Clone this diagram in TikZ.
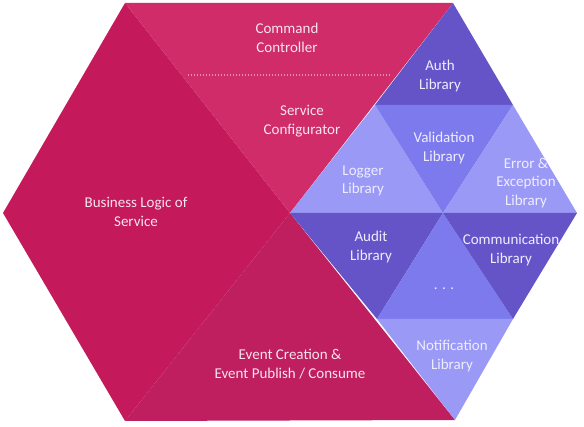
\documentclass[tikz,border=0pt]{standalone}
\usepackage{fontspec}
\setmainfont{Carlito}
\definecolor{pinkA}{HTML}{C41A5C}
\definecolor{pinkB}{HTML}{CF2C69}
\definecolor{pinkC}{HTML}{BF1F5E}
\definecolor{pdark}{HTML}{6553C8}
\definecolor{plight}{HTML}{9B99F6}
\definecolor{pmid}{HTML}{7D7AEE}
\definecolor{ptxt}{HTML}{F7E4EE}
\definecolor{vtxt}{HTML}{EEEDFF}
\definecolor{dotc}{HTML}{EC8FB4}
\tikzset{
  lbl/.style={align=center,font=\fontsize{15}{18.5}\selectfont,inner sep=0pt},
  plbl/.style={lbl,text=ptxt},
  vlbl/.style={lbl,text=vtxt},
}
\begin{document}
\begin{tikzpicture}[x=1pt,y=-1pt]
\useasboundingbox (0,0) rectangle (584,427);
% key points
\coordinate (TL) at (125,3);
\coordinate (TR) at (453,3);
\coordinate (R) at (577,213);
\coordinate (BR) at (455,420);
\coordinate (BL) at (125,421);
\coordinate (L) at (3,213);
\coordinate (C) at (290,213);
\coordinate (A1) at (375,105);
\coordinate (A2) at (513,105);
\coordinate (M) at (443,213);
\coordinate (B1) at (377,319);
\coordinate (B2) at (513,319);
% pink regions
\fill[pinkA] (L) -- (TL) -- (C) -- (BL) -- cycle;
\fill[pinkB] (TL) -- (TR) -- (C) -- cycle;
\fill[pinkC] (BL) -- (C) -- (BR) -- cycle;
% purple triangles
\fill[pdark] (TR) -- (A2) -- (A1) -- cycle;
\fill[plight] (A1) -- (M) -- (C) -- cycle;
\fill[pmid] (A1) -- (A2) -- (M) -- cycle;
\fill[plight] (A2) -- (R) -- (M) -- cycle;
\fill[pdark] (C) -- (M) -- (B1) -- cycle;
\fill[pmid] (M) -- (B2) -- (B1) -- cycle;
\fill[pdark] (M) -- (R) -- (B2) -- cycle;
\fill[plight] (B1) -- (B2) -- (BR) -- cycle;
% dotted separator
\coordinate (D1) at (188,75);
\coordinate (D2) at (390,75);
\draw[dotc,line width=1.2pt,dash pattern=on 1.2pt off 1.8pt] (D1) -- (D2);
% labels
\node[plbl] (cmd) at (287,38) {Command\\Controller};
\node[plbl] (cfg) at (302,121) {Service\\Configurator};
\node[plbl] (biz) at (136,212) {Business Logic of\\Service};
\node[plbl] (evt) at (290,364) {Event Creation \&\\Event Publish / Consume};
\node[vlbl] (auth) at (440,76) {Auth\\Library};
\node[vlbl] (val) at (444,148) {Validation\\Library};
\node[vlbl] (log) at (363,181) {Logger\\Library};
\node[vlbl] (err) at (526,183) {Error \&\\Exception\\Library};
\node[vlbl] (aud) at (371,247) {Audit\\Library};
\node[vlbl] (com) at (511,250) {Communication\\Library};
\node[vlbl] (dots) at (444,289) {. . .};
\node[vlbl] (notif) at (452,356) {Notification\\Library};
\end{tikzpicture}
\end{document}
